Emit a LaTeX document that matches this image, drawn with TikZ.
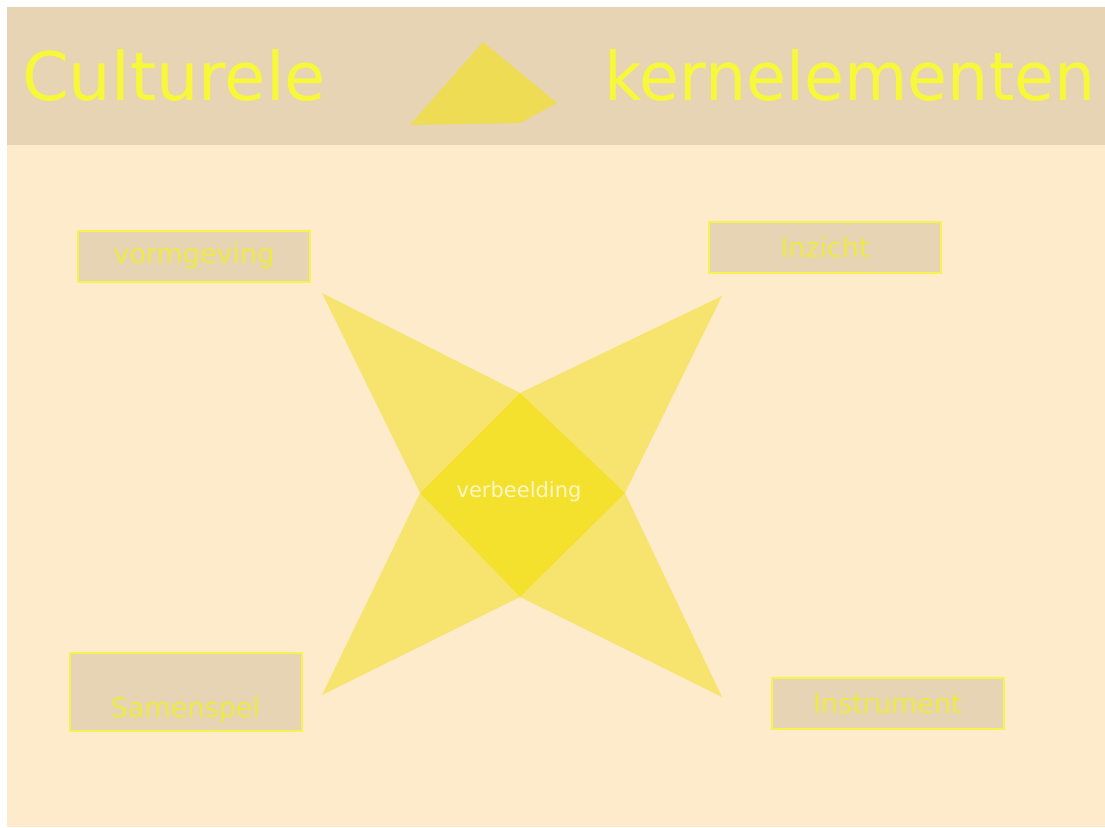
\documentclass[tikz,border=0pt]{standalone}
\usepackage{fontspec}
\setmainfont{DejaVu Sans}
\definecolor{bodybg}{HTML}{FEEBCC}
\definecolor{headbg}{HTML}{E6D4B4}
\definecolor{titleyellow}{HTML}{F8F83A}
\definecolor{armyellow}{HTML}{F7E46E}
\definecolor{coreyellow}{HTML}{F3E12E}
\definecolor{pyr}{HTML}{EFDC55}
\definecolor{boxline}{HTML}{F8F250}
\definecolor{boxtext}{HTML}{EEEA45}
\definecolor{coretext}{HTML}{FFF6C8}
\begin{document}
\begin{tikzpicture}[x=1pt,y=-1pt,
  labelbox/.style={draw=boxline,line width=2pt,fill=headbg,minimum width=232pt,minimum height=51pt,inner sep=0pt,text=boxtext,font=\fontsize{27}{30}\selectfont},
  titletext/.style={text=titleyellow,inner sep=0pt,font=\fontsize{67}{72}\selectfont}]
\useasboundingbox (0,0) rectangle (1105,827);
\fill[white] (0,0) rectangle (1105,827);
\fill[bodybg] (7,7) rectangle (1105,827);
\fill[headbg] (7,7) rectangle (1105,145);
% title
\node[titletext,anchor=base west] (t1) at (22,100) {Culturele};
\node[titletext,anchor=base east,font=\fontsize{67}{72}\selectfont\addfontfeatures{FakeStretch=0.97}] (t2) at (1096,100) {kernelementen};
\fill[pyr] (483,42) -- (557,103) -- (520,123) -- (410,125) -- cycle;
% star
\coordinate (dt) at (520,393);
\coordinate (dl) at (420,493);
\coordinate (dr) at (625,493);
\coordinate (db) at (520,597);
\fill[armyellow] (322,293) -- (dt) -- (dl) -- cycle;
\fill[armyellow] (722,296) -- (dt) -- (dr) -- cycle;
\fill[armyellow] (322,695) -- (db) -- (dl) -- cycle;
\fill[armyellow] (722,697) -- (db) -- (dr) -- cycle;
\fill[coreyellow] (dt) -- (dr) -- (db) -- (dl) -- cycle;
\node[text=coretext,font=\fontsize{21}{24}\selectfont] (core) at (519,492) {verbeelding};
% boxes
\node[labelbox] (vorm) at (194,256.5) {\raisebox{-2pt}{vormgeving}};
\node[labelbox] (inz) at (825,247.5) {\raisebox{-2pt}{Inzicht}};
\node[labelbox,minimum height=78pt,anchor=north] (sam) at (185.5,652) {};
\node[text=boxtext,font=\fontsize{27}{30}\selectfont] (samt) at (185.5,710) {Samenspel};
\node[labelbox] (instr) at (887.5,703.5) {Instrument};
\end{tikzpicture}
\end{document}
